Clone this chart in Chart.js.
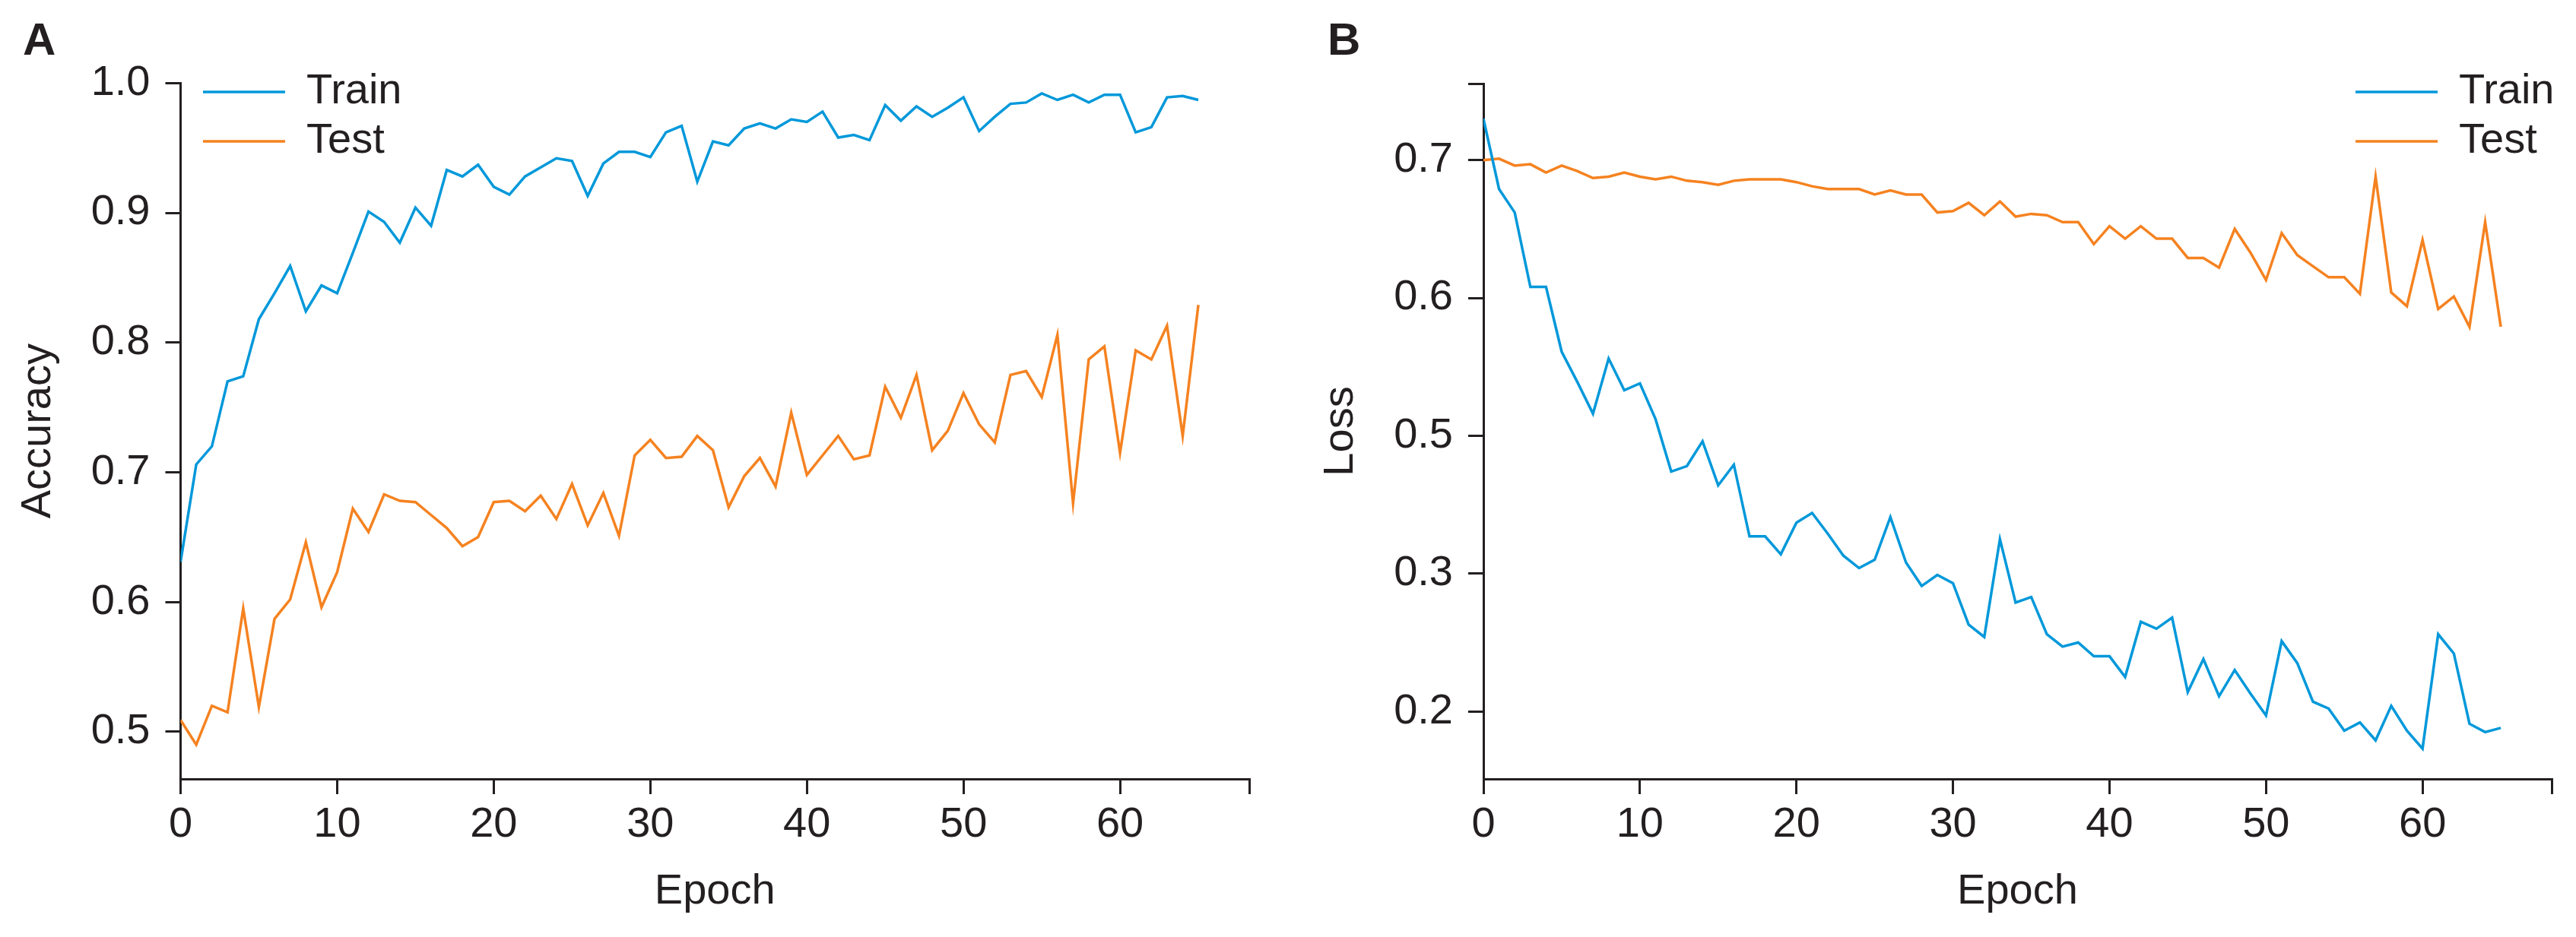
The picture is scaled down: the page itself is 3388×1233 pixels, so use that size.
<!DOCTYPE html>
<html lang="en">
<head>
<meta charset="UTF-8">
<title>Accuracy and loss per epoch</title>
<script src="https://cdn.jsdelivr.net/npm/chart.js@4"></script>
<style>
  html, body { margin: 0; padding: 0; background: #fff; }
  .panel { position: absolute; top: 0; width: 1694px; height: 1233px; }
  #panelA { left: 0; }
  #panelB { left: 1694px; }
</style>
</head>
<body>
<div id="panelA" class="panel"><canvas id="accChart"></canvas></div>
<div id="panelB" class="panel"><canvas id="lossChart"></canvas></div>
<script>
  // values, one per epoch (0..65)
  const accTrain = [
    0.631, 0.706, 0.720, 0.770, 0.774, 0.818, 0.838, 0.859, 0.824, 0.844,
    0.838, 0.869, 0.901, 0.893, 0.877, 0.904, 0.890, 0.933, 0.928, 0.937,
    0.920, 0.914, 0.928, 0.935, 0.942, 0.940, 0.913, 0.938, 0.947, 0.947,
    0.943, 0.962, 0.967, 0.924, 0.955, 0.952, 0.965, 0.969, 0.965, 0.972,
    0.970, 0.978, 0.958, 0.960, 0.956, 0.983, 0.971, 0.982, 0.974, 0.981,
    0.989, 0.963, 0.974, 0.984, 0.985, 0.992, 0.987, 0.991, 0.985, 0.991,
    0.991, 0.962, 0.966, 0.989, 0.990, 0.987
  ];
  const accTest = [
    0.509, 0.490, 0.520, 0.515, 0.595, 0.519, 0.587, 0.602, 0.646, 0.596,
    0.623, 0.672, 0.654, 0.683, 0.678, 0.677, 0.667, 0.657, 0.643, 0.650,
    0.677, 0.678, 0.670, 0.682, 0.664, 0.691, 0.659, 0.684, 0.651, 0.713,
    0.725, 0.711, 0.712, 0.728, 0.717, 0.673, 0.697, 0.711, 0.689, 0.746,
    0.698, 0.713, 0.728, 0.710, 0.713, 0.766, 0.742, 0.775, 0.717, 0.732,
    0.761, 0.737, 0.723, 0.775, 0.778, 0.758, 0.806, 0.676, 0.787, 0.797,
    0.715, 0.794, 0.787, 0.813, 0.728, 0.829
  ];
  // loss values are on the axis's even spacing (ticks 0.3..0.7);
  // the figure prints the two lowest ticks as 0.3 and 0.2
  const lossTrain = [
    0.730, 0.679, 0.662, 0.608, 0.608, 0.561, 0.539, 0.516, 0.556, 0.533,
    0.538, 0.512, 0.474, 0.478, 0.496, 0.464, 0.479, 0.427, 0.427, 0.414,
    0.437, 0.444, 0.429, 0.413, 0.404, 0.410, 0.441, 0.408, 0.391, 0.399,
    0.393, 0.363, 0.354, 0.425, 0.379, 0.383, 0.356, 0.347, 0.350, 0.340,
    0.340, 0.325, 0.365, 0.360, 0.368, 0.314, 0.338, 0.311, 0.330, 0.313,
    0.297, 0.351, 0.335, 0.307, 0.302, 0.286, 0.292, 0.279, 0.304, 0.286,
    0.273, 0.356, 0.342, 0.291, 0.285, 0.288
  ];
  const lossTest = [
    0.700, 0.701, 0.696, 0.697, 0.691, 0.696, 0.692, 0.687, 0.688, 0.691,
    0.688, 0.686, 0.688, 0.685, 0.684, 0.682, 0.685, 0.686, 0.686, 0.686,
    0.684, 0.681, 0.679, 0.679, 0.679, 0.675, 0.678, 0.675, 0.675, 0.662,
    0.663, 0.669, 0.660, 0.670, 0.659, 0.661, 0.660, 0.655, 0.655, 0.639,
    0.652, 0.643, 0.652, 0.643, 0.643, 0.629, 0.629, 0.622, 0.650, 0.633,
    0.613, 0.647, 0.631, 0.623, 0.615, 0.615, 0.603, 0.688, 0.604, 0.594,
    0.642, 0.592, 0.601, 0.579, 0.655, 0.579
  ];

  const epochTicks = [0, 10, 20, 30, 40, 50, 60];
  const accTicks = [0.5, 0.6, 0.7, 0.8, 0.9, 1.0];
  const lossTickValues = [0.3, 0.4, 0.5, 0.6, 0.7];
  const lossTickLabels = ['0.2', '0.3', '0.5', '0.6', '0.7'];
  const seriesNames = ['Train', 'Test'];

  const epochs = accTrain.map((_, i) => i);
  const epochMax = 68.25;
  const accRange = [0.4636, 1.0];
  const lossRange = [0.251, 0.7555];

  const ink = '#231f20';
  const blue = '#0098da';
  const orange = '#f58220';

  Chart.defaults.font.family = "'Liberation Sans', Arial, Helvetica, sans-serif";
  Chart.defaults.color = ink;

  // park the legend box where the figure has it
  const legendSpot = {
    id: 'legendSpot',
    afterLayout(chart, args, opts) {
      const lg = chart.legend;
      if (!lg) return;
      lg.left = opts.x;
      lg.top = opts.y;
      lg.width = 520;
      lg.height = 200;
      lg.right = opts.x + 520;
      lg.bottom = opts.y + 200;
    }
  };

  function lineSet(label, values, color) {
    return {
      label: label,
      data: values.map((v, i) => ({ x: epochs[i], y: v })),
      borderColor: color,
      backgroundColor: color,
      borderWidth: 3.5,
      pointRadius: 0,
      pointHoverRadius: 0,
      tension: 0,
      fill: false
    };
  }

  function xAxis() {
    return {
      type: 'linear',
      min: 0,
      max: epochMax,
      afterBuildTicks: s => { s.ticks = epochTicks.concat([epochMax]).map(v => ({ value: v })); },
      afterFit: s => { s.height = 208; },
      ticks: {
        callback: v => epochTicks.includes(v) ? String(v) : '',
        padding: 7, autoSkip: false, maxRotation: 0, minRotation: 0,
        font: { size: 56 }, color: ink
      },
      grid: { drawOnChartArea: false, tickLength: 20, tickWidth: 3, lineWidth: 3, color: ink, tickColor: ink },
      border: { display: true, width: 3, color: ink },
      title: { display: true, text: 'Epoch', color: ink, font: { size: 56 }, padding: { top: 0, bottom: 26 } }
    };
  }

  function yAxis(range, values, labels, extra, text, titlePad, width) {
    return {
      type: 'linear',
      min: range[0],
      max: range[1],
      afterBuildTicks: s => { s.ticks = values.concat(extra).map(v => ({ value: v })); },
      afterFit: s => { s.width = width; },
      ticks: {
        callback: v => { const i = values.indexOf(v); return i < 0 ? '' : labels[i]; },
        padding: 20, autoSkip: false,
        font: { size: 56 }, color: ink
      },
      grid: { drawOnChartArea: false, tickLength: 20, tickWidth: 3, lineWidth: 3, color: ink, tickColor: ink },
      border: { display: true, width: 3, color: ink },
      title: { display: true, text: text, color: ink, font: { size: 56 }, padding: { top: titlePad, bottom: 0 } }
    };
  }

  function panelOptions(letter, titleBottom, pad, legendX, xScale, yScale) {
    return {
      responsive: true,
      maintainAspectRatio: false,
      animation: false,
      events: [],
      layout: { padding: pad },
      scales: { x: xScale, y: yScale },
      plugins: {
        title: {
          display: true, text: letter, align: 'start', color: ink,
          font: { size: 60, weight: 'bold', lineHeight: 1.2 },
          padding: { top: 19, bottom: titleBottom }
        },
        legend: {
          position: 'chartArea',
          align: 'start',
          labels: {
            usePointStyle: true, pointStyle: 'line', pointStyleWidth: 108,
            padding: 9, color: ink, font: { size: 56 }
          }
        },
        tooltip: { enabled: false },
        legendSpot: { x: legendX, y: 84 }
      }
    };
  }

  new Chart(document.getElementById('accChart'), {
    type: 'line',
    data: {
      datasets: [
        lineSet(seriesNames[0], accTrain, blue),
        lineSet(seriesNames[1], accTest, orange)
      ]
    },
    options: panelOptions('A', 18.3, { left: 30, right: 51, top: 0, bottom: 0 }, 258,
      xAxis(),
      yAxis(accRange, accTicks, accTicks.map(v => v.toFixed(1)), [], 'Accuracy', -13, 207.5)),
    plugins: [legendSpot]
  });

  new Chart(document.getElementById('lossChart'), {
    type: 'line',
    data: {
      datasets: [
        lineSet(seriesNames[0], lossTrain, blue),
        lineSet(seriesNames[1], lossTest, orange)
      ]
    },
    options: panelOptions('B', 19, { left: 52, right: 32, top: 0, bottom: 0 }, 1395,
      xAxis(),
      yAxis(lossRange, lossTickValues, lossTickLabels, [lossRange[1]], 'Loss', -16, 205)),
    plugins: [legendSpot]
  });
</script>
</body>
</html>
